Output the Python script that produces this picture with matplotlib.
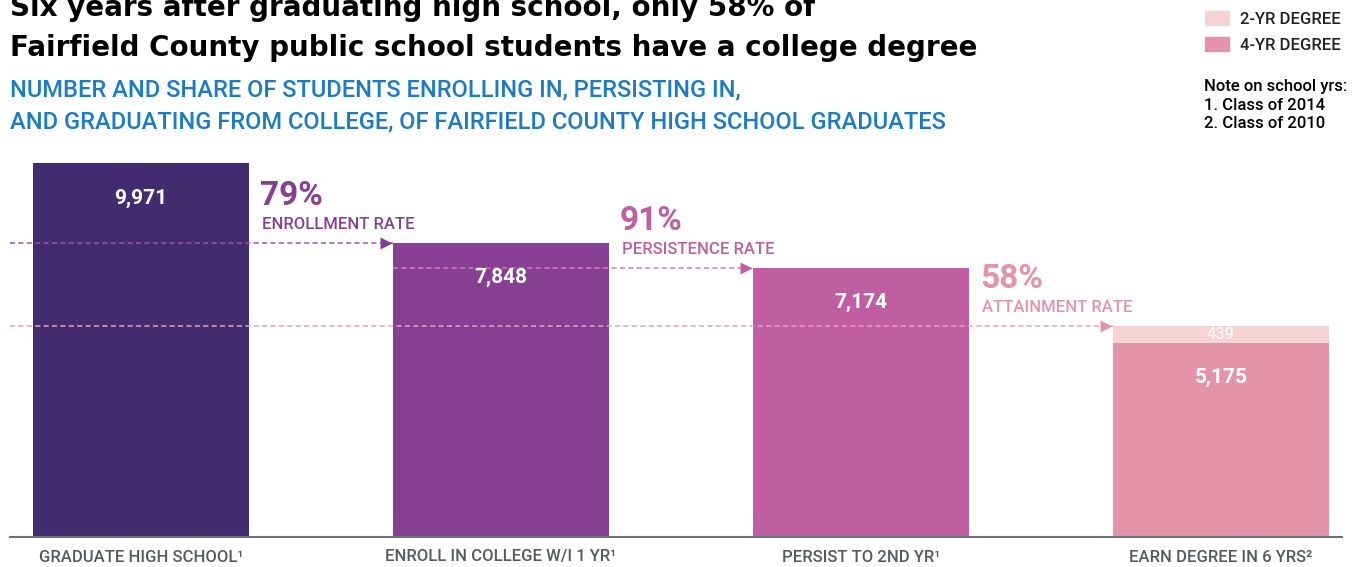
import matplotlib.pyplot as plt
from matplotlib.patches import Rectangle
from matplotlib.transforms import offset_copy

# data
categories = ["GRADUATE HIGH SCHOOL\u00b9", "ENROLL IN COLLEGE W/I 1 YR\u00b9",
              "PERSIST TO 2ND YR\u00b9", "EARN DEGREE IN 6 YRS\u00b2"]
main_values = [9971, 7848, 7174, 5175]   # last one = 4-yr degree
two_year = 439                            # stacked on the last bar
rates = ["79%", "91%", "58%"]
rate_names = ["ENROLLMENT RATE", "PERSISTENCE RATE", "ATTAINMENT RATE"]
legend_labels = ["2-YR DEGREE", "4-YR DEGREE"]
notes = ["Note on school yrs:", "1. Class of 2014", "2. Class of 2010"]

bar_colors = ["#432b70", "#873f94", "#bf5fa1", "#e592ab"]
two_year_color = "#f5d3d3"
line_colors = ["#9a55a6", "#d37ab6", "#eba0ba"]

W, H = 1367, 567
plt.rcParams['font.family'] = ['Roboto', 'DejaVu Sans']

fig = plt.figure(figsize=(W / 100, H / 100), dpi=100)


def fx(px):
    return px / W


def fy(py):
    return 1 - py / H


# axes: x=0 bar center at px 141, one unit = 360 px
left_px, right_px, top_px, bot_px = 10, 1342, 150, 537
ax = fig.add_axes([fx(left_px), fy(bot_px), (right_px - left_px) / W, (bot_px - top_px) / H])
ax.set_xlim((left_px - 141) / 360, (right_px - 141) / 360)
ax.set_ylim(0, (bot_px - top_px) / 0.03751)

x = list(range(len(categories)))
bw = 0.6
ax.bar(x, main_values, width=bw, color=bar_colors, zorder=1)
ax.bar(x[-1], two_year, bottom=main_values[-1], width=bw, color=two_year_color, zorder=1)

totals = main_values[:-1] + [main_values[-1] + two_year]

# dashed connector lines with arrow heads
x0 = ax.get_xlim()[0]
starts = [x0, x[1] - bw / 2, x0]
for i in range(3):
    tx = x[i + 1] - bw / 2
    yv = totals[i + 1]
    ax.plot([starts[i], tx], [yv, yv], color=line_colors[i], lw=1.1,
            linestyle=(0, (3.3, 2.2)), zorder=3, clip_on=False)
    ax.plot([tx], [yv], marker='>', ms=8, color=bar_colors[i + 1], mec='none', zorder=4,
            transform=offset_copy(ax.transData, fig, x=-6.5, y=0, units='dots'))
    # rate annotation
    lx = x[i] + bw / 2
    ax.text(lx, yv, rate_names[i], color=bar_colors[i + 1], fontsize=12, fontweight='medium',
            ha='left', va='baseline',
            transform=offset_copy(ax.transData, fig, x=13, y=14, units='dots'))
    ax.text(lx, yv, rates[i], color=bar_colors[i + 1], fontsize=24, fontweight='bold',
            ha='left', va='baseline',
            transform=offset_copy(ax.transData, fig, x=11, y=38, units='dots'))

# value labels
for i, v in enumerate(main_values):
    ax.text(x[i], v, f"{v:,}", color='white', fontsize=15, fontweight='bold',
            ha='center', va='center', zorder=5,
            transform=offset_copy(ax.transData, fig, x=0, y=-35, units='dots'))
ax.text(x[-1], main_values[-1] + two_year / 2, f"{two_year:,}", color='white', fontsize=12,
        ha='center', va='center', zorder=5)

ax.set_xticks(x)
ax.set_xticklabels(categories, fontsize=12, color='#555960', fontweight='medium')
ax.tick_params(axis='x', length=0, pad=9)
ax.set_yticks([])
for s in ['top', 'left', 'right']:
    ax.spines[s].set_visible(False)
ax.spines['bottom'].set_color('#6e727b')
ax.spines['bottom'].set_linewidth(1.5)

# titles
title_font = ['DejaVu Sans']
fig.text(fx(10), fy(16), "Six years after graduating high school, only 58% of",
         fontsize=20, fontweight='bold', color='black', ha='left', va='baseline',
         family=title_font)
fig.text(fx(10), fy(56), "Fairfield County public school students have a college degree",
         fontsize=20, fontweight='bold', color='black', ha='left', va='baseline',
         family=title_font)
fig.text(fx(10), fy(96), "NUMBER AND SHARE OF STUDENTS ENROLLING IN, PERSISTING IN,",
         fontsize=17, fontweight='medium', color='#1b7bc3', ha='left', va='baseline')
fig.text(fx(10), fy(128), "AND GRADUATING FROM COLLEGE, OF FAIRFIELD COUNTY HIGH SCHOOL GRADUATES",
         fontsize=17, fontweight='medium', color='#1b7bc3', ha='left', va='baseline')

# legend
for j, (lab, col) in enumerate(zip(legend_labels, [two_year_color, bar_colors[-1]])):
    top = 11 + 26 * j
    fig.add_artist(Rectangle((fx(1205), fy(top + 14)), 24 / W, 14 / H, color=col,
                             transform=fig.transFigure))
    fig.text(fx(1240), fy(top + 13), lab, fontsize=12, color='#222222',
             ha='left', va='baseline', fontweight='medium')
for k, t in enumerate(notes):
    fig.text(fx(1204), fy(91 + 18.5 * k), t, fontsize=12, color='black',
             ha='left', va='baseline', fontweight='medium')

fig.savefig('out.png', dpi=100)
